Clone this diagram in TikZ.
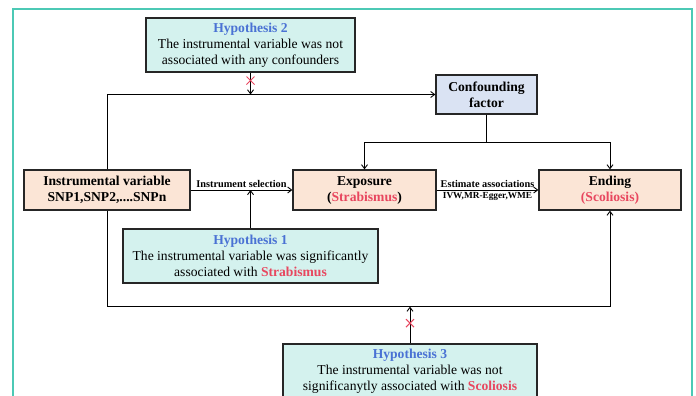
\documentclass[tikz,border=0pt]{standalone}
\usepackage{fontspec}
\setmainfont{Liberation Serif}
\usepackage{xcolor}
\usetikzlibrary{calc,positioning,arrows.meta,shapes.misc}
\definecolor{hypfill}{HTML}{D4F2EE}
\definecolor{hypblue}{HTML}{4A72D4}
\definecolor{hypred}{HTML}{E8475F}
\definecolor{peach}{HTML}{FBE5D6}
\definecolor{conffill}{HTML}{DAE3F3}
\definecolor{framecol}{HTML}{4CC9B5}
\newcommand{\hyptitle}[1]{\textbf{\textcolor{hypblue}{#1}}}
\newcommand{\redtext}[1]{\textbf{\textcolor{hypred}{#1}}}
\tikzset{
>={Straight Barb[length=4pt,width=6pt]},
  basebox/.style={
    rectangle,
    draw=black!85, line width=1.3pt,
    inner sep=1pt,
    align=center,
    font=\fontsize{13.6}{16}\selectfont},
  hypbox/.style={basebox, fill=hypfill, minimum height=54pt},
  mainbox/.style={basebox, fill=peach, minimum height=40pt,
    font=\fontsize{13.6}{16}\selectfont\bfseries},
  confbox/.style={basebox, fill=conffill, minimum width=101pt,
    minimum height=39pt, font=\fontsize{13.6}{16}\selectfont\bfseries},
  link/.style={draw, line width=0.9pt, ->},
  smalllabel/.style={font=\fontsize{10.3}{12}\selectfont\bfseries, inner sep=1.5pt},
  tinylabel/.style={font=\fontsize{9.3}{11}\selectfont\bfseries, inner sep=1.5pt},
  crossmark/.style={cross out, draw=hypred, line width=1pt, minimum size=7pt, inner sep=0pt},
}
\begin{document}
\begin{tikzpicture}[x=1pt,y=-1pt]
  \useasboundingbox (0,0) rectangle (696,396);
  \draw[framecol, line width=1.5pt] (13,9) rectangle (692,420);

  % boxes
  \node[hypbox, minimum width=209pt] (hyp2) at (250.5,45)
    {\hyptitle{Hypothesis 2}\\The instrumental variable was not\\associated with any confounders};
  \node[confbox] (conf) at (486.5,94.5) {Confounding\\factor};
  \node[mainbox, minimum width=166pt] (iv) at (107,190)
    {Instrumental variable\\SNP1,SNP2,....SNPn};
  \node[mainbox, minimum width=143pt] (expo) at (364.5,190)
    {Exposure\\(\textcolor{hypred}{Strabismus})};
  \node[mainbox, minimum width=142pt] (ending) at (610,190)
    {Ending\\\textcolor{hypred}{(Scoliosis)}};
  \node[hypbox, minimum width=255pt] (hyp1) at (250.5,256)
    {\hyptitle{Hypothesis 1}\\The instrumental variable was significantly\\associated with \redtext{Strabismus}};
  \node[hypbox, minimum width=254pt] (hyp3) at (410,371)
    {\hyptitle{Hypothesis 3}\\The instrumental variable was not\\significanytly associated with \redtext{Scoliosis}};

  % connectors
  \coordinate (split) at ($(conf.south)+(0,28)$);
  \coordinate (loop) at ($(iv.south)+(0,96)$);
  \draw[link] (iv.north) |- (conf.west);
  \draw[link] (hyp2.south) -- (hyp2.south |- conf.west);
  \draw[line width=0.9pt] (conf.south) -- (split);
  \draw[link] (split) -| (expo.north);
  \draw[link] (split) -| (ending.north);
  \draw[link] (iv.east) -- node[smalllabel, above] {Instrument selection} (expo.west);
  \draw[link] (hyp1.north) -- (hyp1.north |- iv.east);
  \draw[link] (expo.east) -- node[smalllabel, above] {Estimate associations}
    node[tinylabel, below] {IVW,MR-Egger,WME} (ending.west);
  \draw[link] (iv.south) -- (loop) -| (ending.south);
  \draw[link] (hyp3.north) -- (hyp3.north |- loop);

  % crosses
  \node[crossmark] (x2) at ($(hyp2.south)!0.36!(hyp2.south |- conf.west)$) {};
  \node[crossmark] (x3) at ($(hyp3.north)!0.55!(hyp3.north |- loop)$) {};
\end{tikzpicture}
\end{document}
